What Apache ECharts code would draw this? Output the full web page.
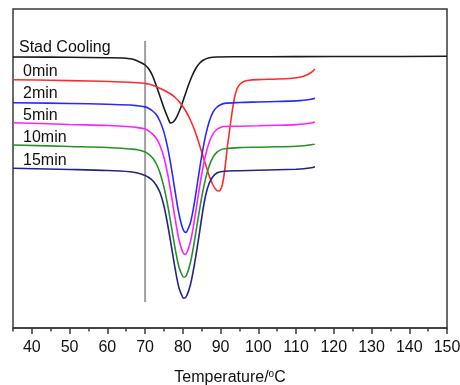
<!DOCTYPE html>
<html><head><meta charset="utf-8">
<script src="https://cdn.jsdelivr.net/npm/echarts@6/dist/echarts.min.js"></script>
<style>html,body{margin:0;padding:0;background:#fff}#c{width:460px;height:385px}</style>
</head><body><div id="c"></div>
<script>
// Heat flow (arbitrary units, offset curves) vs temperature (°C)
const seriesNames = ['Stad Cooling', '0min', '2min', '5min', '10min', '15min'];
const seriesColors = ['#1a1a1a', '#ff2a2a', '#2a2aff', '#ff22ff', '#2a8f2a', '#25257f'];

const stadCooling = [[35,27.1],[50,27.07],[60,27.03],[64,27.0],[66,26.93],[67,26.85],[68,26.7],[69,26.52],[70,26.3],[71,25.9],[72,25.2],[73,24.2],[74,23.1],[75,22.0],[76,21.05],[76.8,20.5],[77.6,20.65],[78.5,21.2],[79.5,22.1],[80.5,23.2],[81.5,24.3],[82.5,25.25],[83.5,26.0],[84.5,26.5],[85.5,26.8],[87,27.02],[89,27.1],[95,27.12],[110,27.14],[130,27.15],[150,27.17]];

const min0 = [[35,24.83],[45,24.77],[55,24.7],[62,24.63],[66,24.57],[68,24.52],[70,24.45],[71,24.4],[72,24.27],[73,24.12],[74,23.95],[75,23.77],[76,23.57],[77,23.35],[78,23.05],[79,22.65],[80,22.15],[81,21.55],[82,20.8],[83,19.9],[84,18.8],[85,17.6],[86,16.4],[87,15.2],[88,14.3],[89,13.75],[89.6,13.7],[90.3,14.1],[90.8,15.0],[91.3,16.4],[91.8,18.1],[92.3,19.5],[92.8,20.9],[93.3,22.2],[93.8,23.2],[94.4,23.95],[95.2,24.4],[96.2,24.65],[97.5,24.77],[100,24.84],[105,24.9],[109,24.98],[111,25.07],[112.5,25.25],[114,25.55],[115,25.9]];

const min2 = [[35,22.53],[50,22.45],[60,22.38],[66,22.3],[68,22.22],[70,22.11],[71,21.95],[72,21.7],[73,21.32],[74,20.63],[75,19.59],[76,18.01],[77,15.92],[78,13.55],[79,11.38],[80,9.93],[80.8,9.56],[81,9.6],[82,10.5],[83,12.4],[84,14.8],[85,17.19],[86,19.19],[87,20.64],[88,21.58],[89,22.07],[90,22.33],[91,22.46],[95,22.55],[100,22.6],[105,22.65],[110,22.71],[112,22.77],[114,22.87],[115,22.97]];

const min5 = [[35,20.53],[50,20.35],[60,20.25],[66,20.13],[68,20.04],[70,19.9],[71,19.68],[72,19.38],[73,18.95],[74,18.2],[75,17.05],[76,15.37],[77,13.2],[78,10.86],[79,8.8],[80,7.56],[80.6,7.36],[81,7.48],[82,8.6],[83,10.62],[84,13.04],[85,15.36],[86,17.25],[87,18.57],[88,19.41],[89,19.85],[90,20.06],[91,20.15],[95,20.18],[100,20.22],[105,20.27],[110,20.34],[112,20.4],[114,20.5],[115,20.6]];

const min10 = [[35,18.3],[50,18.15],[60,18.05],[66,17.9],[68,17.82],[70,17.61],[71,17.37],[72,16.99],[73,16.4],[74,15.45],[75,14.09],[76,12.26],[77,10.08],[78,7.87],[79,6.08],[80,5.15],[80.4,5.08],[81,5.3],[82,6.53],[83,8.52],[84,10.84],[85,13.06],[86,14.89],[87,16.22],[88,17.09],[89,17.56],[90,17.81],[91,17.92],[95,18.04],[100,18.08],[105,18.12],[110,18.18],[112,18.23],[114,18.32],[115,18.4]];

const min15 = [[35,15.97],[50,15.85],[60,15.75],[66,15.63],[68,15.5],[70,15.25],[71,15.05],[72,14.75],[73,14.25],[74,13.5],[75,12.2],[76,10.3],[77,8.1],[78,5.85],[79,4.0],[80,3.05],[80.4,2.97],[81,3.2],[82,4.3],[83,6.2],[84,8.5],[85,11.0],[86,13.2],[87,14.5],[88,15.15],[89,15.5],[90,15.62],[91,15.68],[95,15.73],[100,15.78],[105,15.83],[110,15.88],[112,15.92],[114,16.02],[115,16.13]];

const majorTicks = [40,50,60,70,80,90,100,110,120,130,140,150];
const minorTicks = [35,45,55,65,75,85,95,105,115,125,135,145];
const refLineT = 70;
const refLineSpan = [2.6, 28.7];

const curves = [stadCooling, min0, min2, min5, min10, min15];
const FONT = 'Liberation Sans, Arial, sans-serif';
const AXC = '#3a3a3a';

const chart = echarts.init(document.getElementById('c'), null, {renderer: 'canvas'});

const series = curves.map((d, i) => ({
  name: seriesNames[i], type: 'line', data: d, showSymbol: false, smooth: 0.35,
  lineStyle: {color: seriesColors[i], width: 1.6}, itemStyle: {color: seriesColors[i]}, z: 3
}));
series.unshift({
  name: 'ref', type: 'line', data: [[refLineT, refLineSpan[0]], [refLineT, refLineSpan[1]]],
  showSymbol: false, lineStyle: {color: '#a0a0a0', width: 2}, z: 2
});

chart.setOption({
  animation: false,
  grid: {left: 13, right: 13, top: 9, bottom: 57, show: true, borderColor: AXC, borderWidth: 1.5,
    containLabel: false, outerBoundsMode: 'none'},
  xAxis: [{
    type: 'value', min: 35, max: 150,
    axisLine: {lineStyle: {color: AXC, width: 1.5}},
    axisTick: {customValues: majorTicks, length: 6, lineStyle: {color: AXC, width: 1.5}},
    axisLabel: {customValues: majorTicks, fontSize: 16, fontFamily: FONT, color: '#111', margin: 12},
    splitLine: {show: false},
    name: 'Temperature/{sup|o}C', nameLocation: 'middle', nameGap: 41,
    nameTextStyle: {fontSize: 16, fontFamily: FONT, color: '#111',
      rich: {sup: {fontSize: 10, fontFamily: FONT, color: '#111', verticalAlign: 'top', padding: [0, 0, 7, 0]}}}
  }, {
    type: 'value', min: 35, max: 150, position: 'bottom',
    axisLine: {show: false},
    axisTick: {customValues: minorTicks, length: 3.5, lineStyle: {color: AXC, width: 1.5}},
    axisLabel: {show: false}, splitLine: {show: false}
  }],
  yAxis: {type: 'value', min: 0, max: 31.9, axisLine: {show: false}, axisTick: {show: false},
    axisLabel: {show: false}, splitLine: {show: false}},
  graphic: [
    {type: 'text', x: 19, y: 47.5, style: {text: seriesNames[0], font: '16px ' + FONT, fill: '#111', verticalAlign: 'middle'}},
    {type: 'text', x: 23, y: 72, style: {text: seriesNames[1], font: '16px ' + FONT, fill: '#111', verticalAlign: 'middle'}},
    {type: 'text', x: 23, y: 94, style: {text: seriesNames[2], font: '16px ' + FONT, fill: '#111', verticalAlign: 'middle'}},
    {type: 'text', x: 23, y: 115.5, style: {text: seriesNames[3], font: '16px ' + FONT, fill: '#111', verticalAlign: 'middle'}},
    {type: 'text', x: 23, y: 137.5, style: {text: seriesNames[4], font: '16px ' + FONT, fill: '#111', verticalAlign: 'middle'}},
    {type: 'text', x: 23, y: 161, style: {text: seriesNames[5], font: '16px ' + FONT, fill: '#111', verticalAlign: 'middle'}}
  ],
  series: series
});
</script></body></html>
